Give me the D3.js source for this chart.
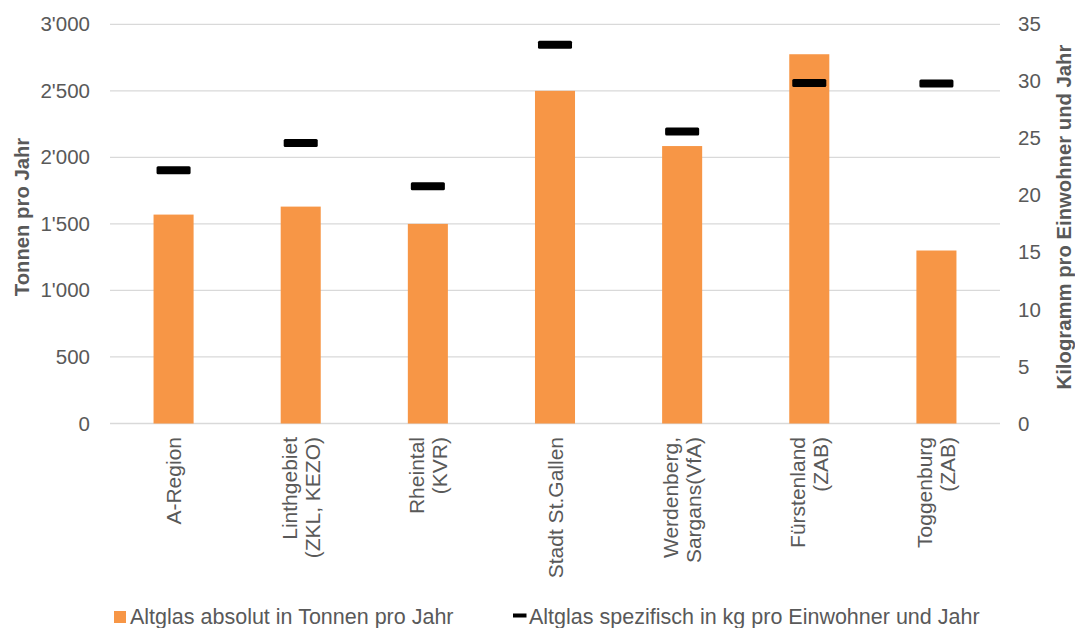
<!DOCTYPE html>
<html>
<head>
<meta charset="utf-8">
<script src="https://cdn.jsdelivr.net/npm/d3@7"></script>
<style>
  html, body { margin: 0; padding: 0; background: #fff; }
  svg { display: block; font-family: "Liberation Sans", Arial, sans-serif; }
</style>
</head>
<body>
<svg id="chart" width="1075" height="628"></svg>
<script>
// Regions (label lines), absolute amounts and per-capita amounts
const categories = [
  ["A-Region"],
  ["Linthgebiet", "(ZKL, KEZO)"],
  ["Rheintal", "(KVR)"],
  ["Stadt St.Gallen"],
  ["Werdenberg,", "Sargans(VfA)"],
  ["Fürstenland", "(ZAB)"],
  ["Toggenburg", "(ZAB)"]
];
const tonnenProJahr = [1570, 1630, 1500, 2500, 2085, 2775, 1300];
const kgProEinwohner = [22.2, 24.6, 20.8, 33.2, 25.6, 29.85, 29.8];
const leftTicks = [0, 500, 1000, 1500, 2000, 2500, 3000];
const rightTicks = [0, 5, 10, 15, 20, 25, 30, 35];
const seriesNames = ["Altglas absolut in Tonnen pro Jahr", "Altglas spezifisch in kg pro Einwohner und Jahr"];

const svg = d3.select("#chart");
const plot = { left: 110, right: 1000, top: 24.3, bottom: 423.5 };
const textColor = "#595959";
const gridColor = "#d9d9d9";
const barColor = "#f79646";

const locale = d3.formatLocale({ decimal: ".", thousands: "'", grouping: [3], currency: ["", ""] });
const fmt = locale.format(",");

const x = d3.scaleBand()
  .domain(d3.range(categories.length))
  .range([plot.left, plot.right])
  .paddingInner(0.685)
  .paddingOuter(0.3425);
const yLeft = d3.scaleLinear().domain([0, 3000]).range([plot.bottom, plot.top]);
const yRight = d3.scaleLinear().domain([0, 35]).range([plot.bottom, plot.top]);

// gridlines
svg.append("g")
  .selectAll("line")
  .data(leftTicks)
  .join("line")
  .attr("x1", plot.left).attr("x2", plot.right)
  .attr("y1", d => yLeft(d)).attr("y2", d => yLeft(d))
  .attr("stroke", gridColor).attr("stroke-width", 1.3);

// left axis labels
const axL = svg.append("g")
  .attr("transform", `translate(${plot.left},0)`)
  .call(d3.axisLeft(yLeft).tickValues(leftTicks).tickFormat(fmt).tickSize(0).tickPadding(20));
axL.select(".domain").remove();
axL.selectAll("text").attr("fill", textColor).style("font-size", "20.5px")
  .style("font-family", "'Liberation Sans', Arial, sans-serif");

// right axis labels
const axR = svg.append("g")
  .attr("transform", `translate(${plot.right},0)`)
  .call(d3.axisRight(yRight).tickValues(rightTicks).tickSize(0).tickPadding(18));
axR.select(".domain").remove();
axR.selectAll("text").attr("fill", textColor).style("font-size", "20.5px")
  .style("font-family", "'Liberation Sans', Arial, sans-serif");

// bars
svg.append("g")
  .selectAll("rect")
  .data(tonnenProJahr)
  .join("rect")
  .attr("x", (d, i) => x(i))
  .attr("width", x.bandwidth())
  .attr("y", d => yLeft(d))
  .attr("height", d => yLeft(0) - yLeft(d))
  .attr("fill", barColor);

// per-capita dash markers
const mw = x.bandwidth() * 0.85, mh = 8;
svg.append("g")
  .selectAll("rect")
  .data(kgProEinwohner)
  .join("rect")
  .attr("x", (d, i) => x(i) + x.bandwidth() / 2 - mw / 2)
  .attr("y", d => yRight(d) - mh / 2)
  .attr("width", mw).attr("height", mh)
  .attr("rx", 1.5)
  .attr("fill", "#000");

// category labels, rotated
const lineH = 23;
const catG = svg.append("g");
categories.forEach((lines, i) => {
  const cx = x(i) + x.bandwidth() / 2;
  const t = catG.append("text")
    .attr("transform", `translate(${cx},437) rotate(-90)`)
    .attr("text-anchor", "end")
    .attr("fill", textColor)
    .style("font-size", "21px");
  const n = lines.length;
  lines.forEach((s, j) => {
    const off = (j - (n - 1) / 2) * lineH + 7.5;
    t.append("tspan").attr("x", 0).attr("y", off).text(s);
  });
});

// axis titles
svg.append("text")
  .attr("transform", `translate(29,217) rotate(-90)`)
  .attr("text-anchor", "middle")
  .attr("fill", textColor)
  .style("font-size", "20.3px").style("font-weight", "bold")
  .text("Tonnen pro Jahr");
svg.append("text")
  .attr("transform", `translate(1071,217) rotate(-90)`)
  .attr("text-anchor", "middle")
  .attr("fill", textColor)
  .style("font-size", "20.3px").style("font-weight", "bold")
  .text("Kilogramm pro Einwohner und Jahr");

// legend
const lg = svg.append("g");
lg.append("rect").attr("x", 114).attr("y", 611).attr("width", 12).attr("height", 12).attr("fill", barColor);
lg.append("text").attr("x", 130).attr("y", 624).attr("fill", textColor)
  .style("font-size", "21.5px").text(seriesNames[0]);
lg.append("rect").attr("x", 513).attr("y", 613.5).attr("width", 13.5).attr("height", 4).attr("fill", "#000");
lg.append("text").attr("x", 529).attr("y", 624).attr("fill", textColor)
  .style("font-size", "21.5px").text(seriesNames[1]);
</script>
</body>
</html>
